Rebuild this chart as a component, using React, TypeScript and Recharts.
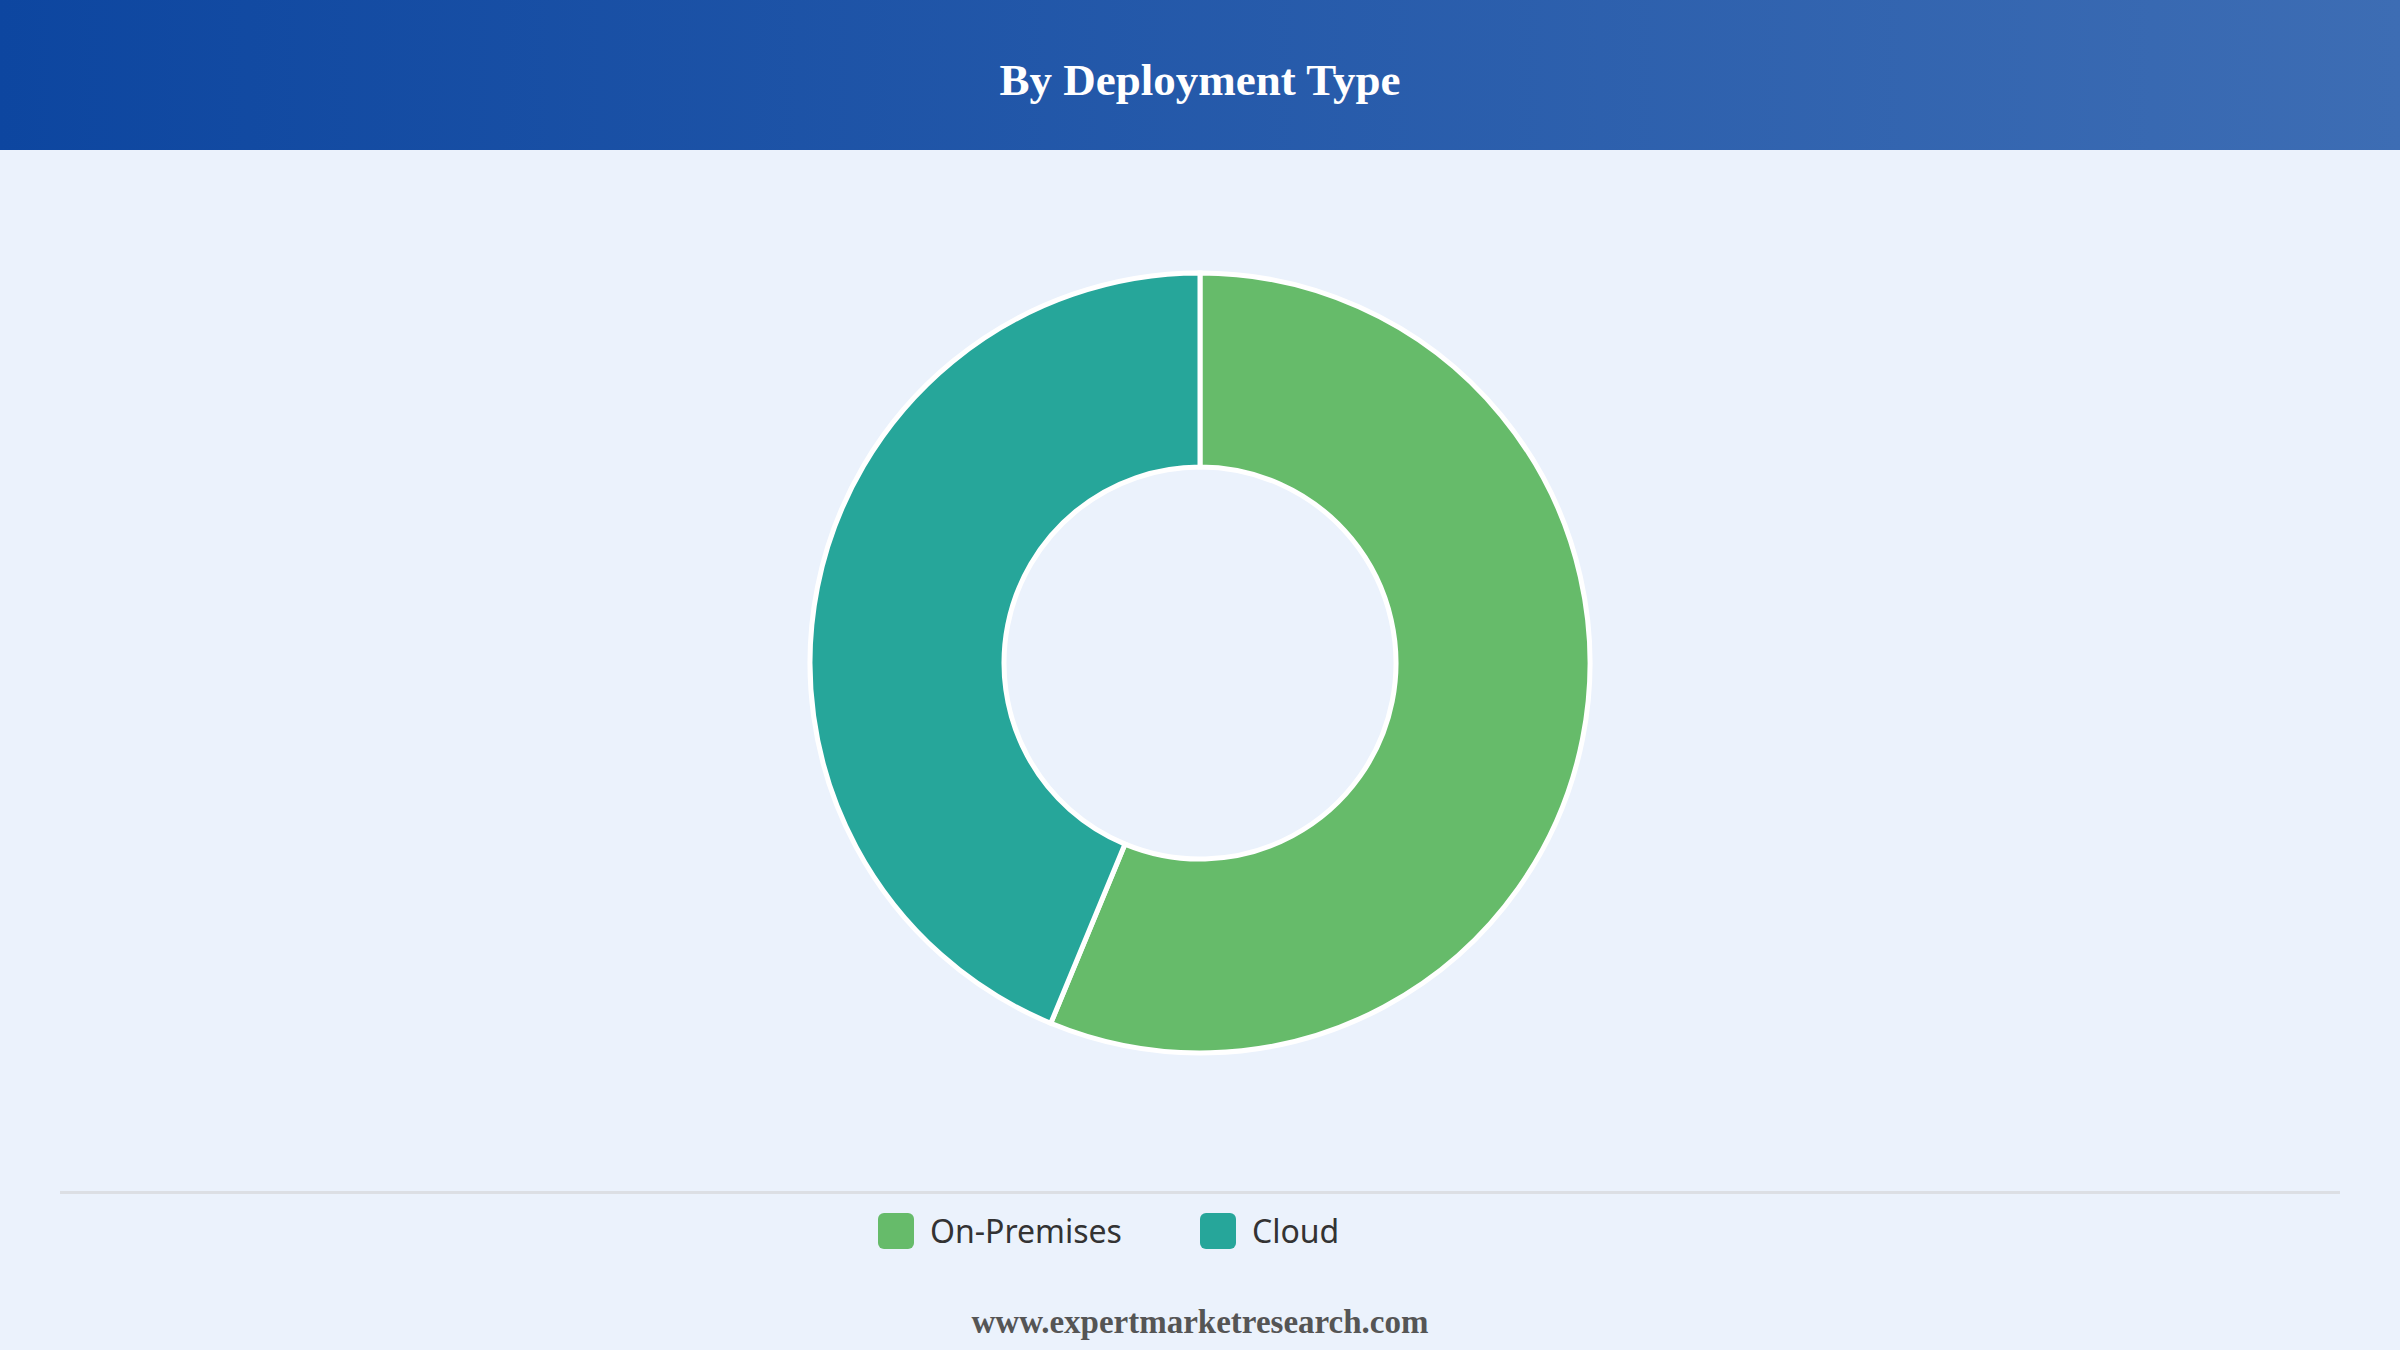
import React from 'react';
import { PieChart, Pie, Cell, Legend } from 'recharts';

const segments = ['On-Premises', 'Cloud'];
const shares = [56.25, 43.75];
const colors = ['#66bb6a', '#26a69a'];

const data = segments.map((name, i) => ({ name, value: shares[i] }));

const LegendRow = (props: any) => {
  const items = [...(props.payload || [])].sort(
    (a: any, b: any) => segments.indexOf(a.value) - segments.indexOf(b.value)
  );
  return (
    <div
      style={{
        borderTop: '3px solid #dcdfe4',
        display: 'flex',
        justifyContent: 'center',
        paddingTop: 15,
      }}
    >
      {items.map((entry: any) => (
        <div key={entry.value} style={{ width: 322, display: 'flex', alignItems: 'center' }}>
          <span
            style={{
              width: 36,
              height: 36,
              borderRadius: 6,
              background: entry.color,
              display: 'inline-block',
              marginRight: 16,
            }}
          />
          <span style={{ fontFamily: '"Noto Sans", sans-serif', fontSize: 32, color: '#333' }}>
            {entry.value}
          </span>
        </div>
      ))}
    </div>
  );
};

export default function App() {
  return (
    <div
      style={{
        position: 'absolute',
        top: 0,
        left: 0,
        width: 2400,
        height: 1350,
        background: '#ebf2fc',
        overflow: 'hidden',
      }}
    >
      <div
        style={{
          position: 'absolute',
          top: 0,
          left: 0,
          width: 2400,
          height: 150,
          background: 'linear-gradient(to right, #0d46a0, #3d6db4)',
          color: '#fff',
          fontFamily: '"Liberation Serif", serif',
          fontWeight: 'bold',
          fontSize: 45,
          textAlign: 'center',
          lineHeight: '160px',
        }}
      >
        By Deployment Type
      </div>

      <div style={{ position: 'absolute', top: 0, left: 0 }}>
        <PieChart width={2400} height={1350} margin={{ top: 0, right: 0, bottom: 0, left: 0 }}>
          <Pie
            data={data}
            dataKey="value"
            nameKey="name"
            cx={1200}
            cy={663}
            innerRadius={196}
            outerRadius={390}
            startAngle={90}
            endAngle={-270}
            stroke="#ffffff"
            strokeWidth={5}
            isAnimationActive={false}
          >
            {data.map((d, i) => (
              <Cell key={d.name} fill={colors[i]} />
            ))}
          </Pie>
          <Legend
            content={<LegendRow />}
            layout="horizontal"
            verticalAlign="bottom"
            wrapperStyle={{ top: 1191, bottom: 'auto', left: 60, width: 2280 }}
          />
        </PieChart>
      </div>

      <div
        style={{
          position: 'absolute',
          top: 1302,
          left: 0,
          width: 2400,
          textAlign: 'center',
          fontFamily: '"Liberation Serif", serif',
          fontWeight: 'bold',
          fontSize: 33,
          color: '#555',
          lineHeight: '40px',
        }}
      >
        www.expertmarketresearch.com
      </div>
    </div>
  );
}
